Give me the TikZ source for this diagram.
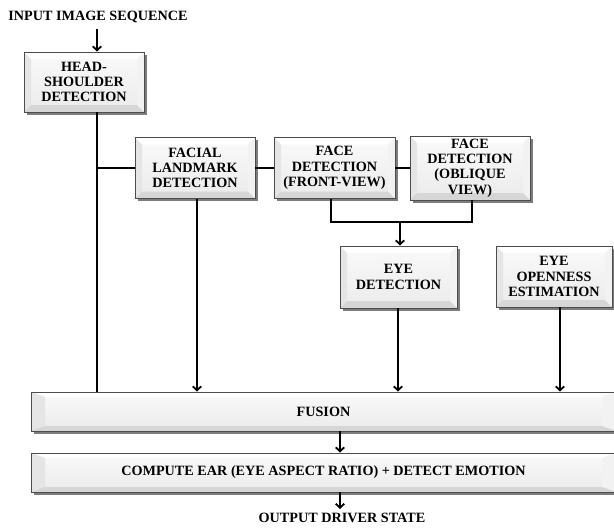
\documentclass[tikz,border=0pt]{standalone}
\usepackage{fontspec}
\setmainfont{Liberation Serif}
\usetikzlibrary{shadows,arrows.meta}
\tikzset{
  bevx/.store in=\bevx, bevy/.store in=\bevy, bevx=7pt, bevy=7pt,
  bev/.style={draw=black!70, line width=0.9pt, align=center, inner sep=0pt,
    font=\bfseries\fontsize{14.2}{15.3}\selectfont, text=black,
    drop shadow={shadow xshift=2.5pt, shadow yshift=-2.5pt, fill=black!60, opacity=0.85},
    path picture={
      \shade[top color=gray!4, bottom color=gray!16]
        (path picture bounding box.north west) rectangle (path picture bounding box.south east);
      \fill[white]
        (path picture bounding box.north west) -- (path picture bounding box.north east)
        -- ([xshift=-\bevx,yshift=-\bevy]path picture bounding box.north east)
        -- ([xshift=\bevx,yshift=-\bevy]path picture bounding box.north west) -- cycle;
      \fill[gray!20]
        (path picture bounding box.north west) -- ([xshift=\bevx,yshift=-\bevy]path picture bounding box.north west)
        -- ([xshift=\bevx,yshift=\bevy]path picture bounding box.south west)
        -- (path picture bounding box.south west) -- cycle;
      \fill[gray!10]
        (path picture bounding box.north east) -- ([xshift=-\bevx,yshift=-\bevy]path picture bounding box.north east)
        -- ([xshift=-\bevx,yshift=\bevy]path picture bounding box.south east)
        -- (path picture bounding box.south east) -- cycle;
      \fill[gray!32]
        (path picture bounding box.south west) -- ([xshift=\bevx,yshift=\bevy]path picture bounding box.south west)
        -- ([xshift=-\bevx,yshift=\bevy]path picture bounding box.south east)
        -- (path picture bounding box.south east) -- cycle;
    }},
  lbl/.style={font=\bfseries\fontsize{14.2}{15.3}\selectfont, inner sep=1pt},
  ln/.style={line width=1.8pt, black},
  arr/.style={line width=1.8pt, black, -{Straight Barb[length=4pt,width=8.5pt]}}
}
\begin{document}
\begin{tikzpicture}[x=1pt,y=-1pt]
\useasboundingbox (0,0) rectangle (614,528);

\node[lbl] (in) at (98,17) {INPUT IMAGE SEQUENCE};
\node[bev, minimum width=120pt, minimum height=60pt] (hs) at (84,82) {HEAD-\\SHOULDER\\DETECTION};
\node[bev, minimum width=120pt, minimum height=61pt] (fl) at (195,168) {FACIAL\\LANDMARK\\DETECTION};
\node[bev, minimum width=121pt, minimum height=61pt] (ff) at (334.5,168) {FACE\\DETECTION\\(FRONT-VIEW)};
\node[bev, minimum width=120pt, minimum height=64pt] (fo) at (470,168) {FACE\\DETECTION\\(OBLIQUE\\VIEW)};
\node[bev, minimum width=117pt, minimum height=62pt] (ed) at (398.5,277) {EYE\\DETECTION};
\node[bev, minimum width=116pt, minimum height=61pt] (eo) at (554,276.5) {EYE\\OPENNESS\\ESTIMATION};
\node[bev, bevx=14pt, bevy=5pt, minimum width=585pt, minimum height=39pt] (fu) at (323.5,411.5) {FUSION};
\node[bev, bevx=14pt, bevy=5pt, minimum width=585pt, minimum height=39pt] (ce) at (323.5,472.5) {COMPUTE EAR (EYE ASPECT RATIO) + DETECT EMOTION};
\node[lbl] (out) at (342,518) {OUTPUT DRIVER STATE};

\coordinate (xa) at (97,0);
\coordinate (xb) at (197,0);
\coordinate (xc) at (331,0);
\coordinate (xd) at (472,0);
\coordinate (j) at (400,222);
\coordinate (xe) at (398,0);
\coordinate (xf) at (560,0);
\coordinate (xg) at (340,0);

\draw[arr] ([yshift=-5pt]in.south -| xa) -- (hs.north -| xa);
\draw[ln] (hs.south -| xa) -- (fu.north -| xa);
\draw[ln] (fl.west -| xa) -- (fl.west);
\draw[ln] (fl.east) -- (ff.west);
\draw[ln] (ff.east) -- (ff.east -| fo.west);
\draw[arr] (fl.south -| xb) -- (fu.north -| xb);
\draw[ln] (ff.south -| xc) -- (xc |- j) -- (xd |- j) -- (fo.south -| xd);
\draw[arr] (j) -- (ed.north -| j);
\draw[arr] (ed.south -| xe) -- (fu.north -| xe);
\draw[arr] (eo.south -| xf) -- (fu.north -| xf);
\draw[arr] (fu.south -| xg) -- (ce.north -| xg);
\draw[arr] (ce.south -| xg) -- ([yshift=3pt]out.north -| xg);
\end{tikzpicture}
\end{document}
